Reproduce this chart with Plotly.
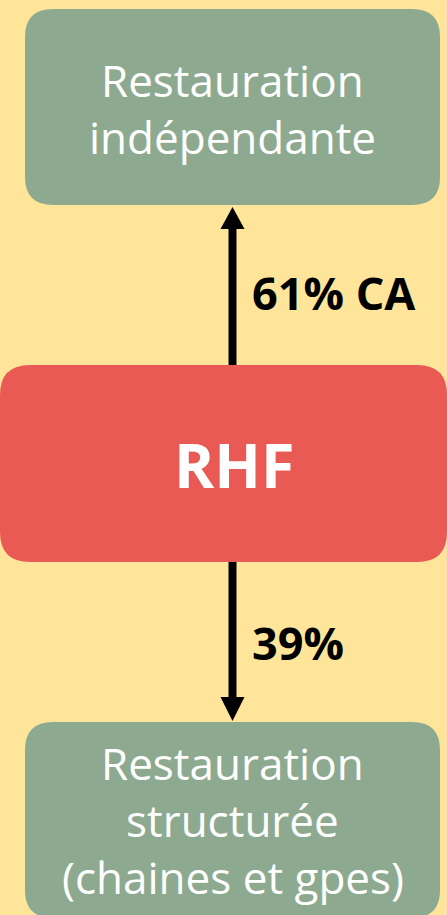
import plotly.graph_objects as go

# box labels (one entry per line of text)
top_lines = ["Restauration", "indépendante"]
center_label = "RHF"
bottom_lines = ["Restauration", "structurée", "(chaines et gpes)"]

# flow labels
up_label = "61% CA"
down_label = "39%"

W, H = 447, 915
BG = "#FFE599"
GREEN = "#8DAA91"
RED = "#E85A53"
FONT = "Open Sans"


def rounded_rect(x0, y0, x1, y1, r):
    return (f"M {x0+r},{y0} L {x1-r},{y0} Q {x1},{y0} {x1},{y0+r} "
            f"L {x1},{y1-r} Q {x1},{y1} {x1-r},{y1} L {x0+r},{y1} "
            f"Q {x0},{y1} {x0},{y1-r} L {x0},{y0+r} Q {x0},{y0} {x0+r},{y0} Z")


fig = go.Figure()
shapes = []
annotations = []

# boxes
shapes.append(dict(type="path", path=rounded_rect(25, 9, 440, 205, 28),
                   fillcolor=GREEN, line_width=0, layer="below"))
shapes.append(dict(type="path", path=rounded_rect(0, 365, 447, 562, 30),
                   fillcolor=RED, line_width=0, layer="below"))
shapes.append(dict(type="path", path=rounded_rect(25, 722, 440, 918, 28),
                   fillcolor=GREEN, line_width=0, layer="below"))

# arrows
ax = 232.5
shapes.append(dict(type="line", x0=ax, x1=ax, y0=365, y1=226,
                   line=dict(color="black", width=8)))
shapes.append(dict(type="path", path=f"M {ax-12},229 L {ax+12},229 L {ax},207 Z",
                   fillcolor="black", line_width=0))
shapes.append(dict(type="line", x0=ax, x1=ax, y0=562, y1=700,
                   line=dict(color="black", width=8)))
shapes.append(dict(type="path", path=f"M {ax-12},697 L {ax+12},697 L {ax},721 Z",
                   fillcolor="black", line_width=0))

# box text
for i, t in enumerate(top_lines):
    annotations.append(dict(x=232.5, y=80 + 57 * i, text=t, showarrow=False,
                            font=dict(family=FONT, size=44, color="white"),
                            xanchor="center", yanchor="middle"))
for i, t in enumerate(bottom_lines):
    annotations.append(dict(x=232.5, y=763 + 57 * i, text=t, showarrow=False,
                            font=dict(family=FONT, size=44, color="white"),
                            xanchor="center", yanchor="middle"))
annotations.append(dict(x=234, y=464, text=f"<b>{center_label}</b>", showarrow=False,
                        font=dict(family=FONT, size=61, color="white"),
                        xanchor="center", yanchor="middle"))

# flow labels
annotations.append(dict(x=250, y=292, text=f"<b>{up_label}</b>", showarrow=False,
                        font=dict(family=FONT, size=45, color="black"),
                        xanchor="left", yanchor="middle"))
annotations.append(dict(x=250, y=642, text=f"<b>{down_label}</b>", showarrow=False,
                        font=dict(family=FONT, size=45, color="black"),
                        xanchor="left", yanchor="middle"))

fig.update_layout(
    width=W, height=H,
    margin=dict(l=0, r=0, t=0, b=0),
    paper_bgcolor=BG, plot_bgcolor=BG,
    xaxis=dict(range=[0, W], visible=False, fixedrange=True),
    yaxis=dict(range=[H, 0], visible=False, fixedrange=True),
    shapes=shapes, annotations=annotations,
    showlegend=False,
)

fig.write_html("out.html", config={"displayModeBar": False},
               post_script="document.body.style.margin='0';")
